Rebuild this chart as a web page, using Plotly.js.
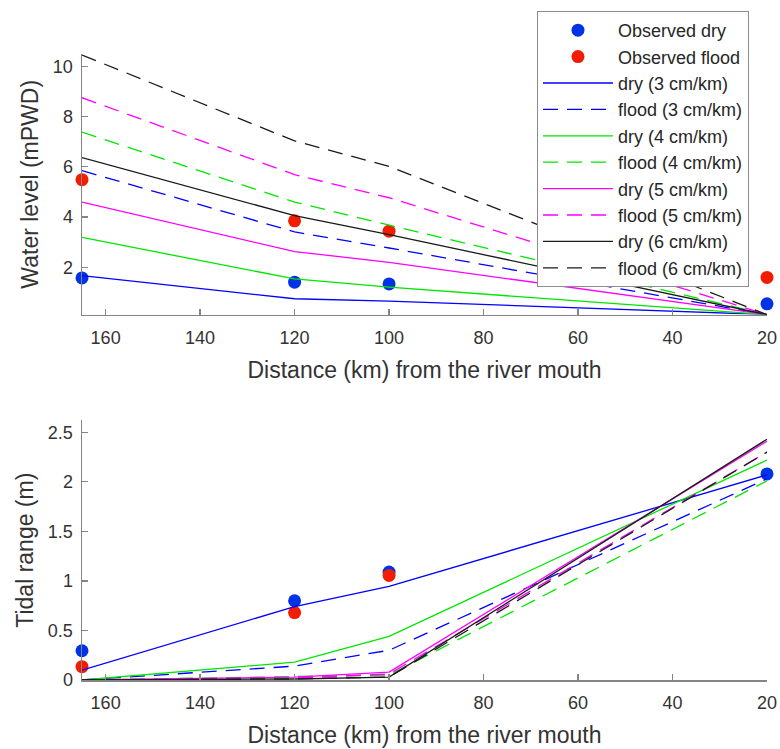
<!DOCTYPE html>
<html>
<head>
<meta charset="utf-8">
<script src="https://cdn.plot.ly/plotly-3.0.1.min.js"></script>
<style>html,body{margin:0;padding:0;background:#fff;}#chart{width:780px;height:749px;}</style>
</head>
<body>
<div id="chart"></div>
<script>
// Distance from river mouth (km)
var distance = [165, 120, 100, 20];

// ---- Water level (mPWD) ----
var obsDryWL   = [1.58, 1.41, 1.34, 0.55];
var obsFloodWL = [5.49, 3.85, 3.44, 1.60];
var dry3WL   = [1.67, 0.75, 0.66, 0.12];
var flood3WL = [5.85, 3.41, 2.77, 0.12];
var dry4WL   = [3.19, 1.54, 1.21, 0.12];
var flood4WL = [7.38, 4.60, 3.68, 0.12];
var dry5WL   = [4.60, 2.63, 2.20, 0.12];
var flood5WL = [8.75, 5.69, 4.77, 0.12];
var dry6WL   = [6.37, 4.06, 3.30, 0.12];
var flood6WL = [10.45, 7.03, 6.02, 0.12];

// ---- Tidal range (m) ----
var obsDryTR   = [0.295, 0.80, 1.09, 2.08];
var obsFloodTR = [0.134, 0.68, 1.055, 2.625];
var dry3TR   = [0.10, 0.74, 0.945, 2.07];
var flood3TR = [0.00, 0.14, 0.30, 2.03];
var dry4TR   = [0.00, 0.18, 0.44, 2.22];
var flood4TR = [0.00, 0.03, 0.05, 2.01];
var dry5TR   = [0.00, 0.03, 0.08, 2.41];
var flood5TR = [0.00, 0.02, 0.06, 2.30];
var dry6TR   = [0.00, 0.01, 0.03, 2.43];
var flood6TR = [0.00, 0.01, 0.03, 2.30];

var seriesNames = ['dry (3 cm/km)', 'flood (3 cm/km)', 'dry (4 cm/km)', 'flood (4 cm/km)',
                   'dry (5 cm/km)', 'flood (5 cm/km)', 'dry (6 cm/km)', 'flood (6 cm/km)'];
var seriesColors = ['#0000ff', '#0000ff', '#00e600', '#00e600', '#ff00ff', '#ff00ff', '#1a1a1a', '#1a1a1a'];
var seriesDash = ['solid', '15px,9px', 'solid', '15px,9px', 'solid', '15px,9px', 'solid', '15px,9px'];

var wlSeries = [dry3WL, flood3WL, dry4WL, flood4WL, dry5WL, flood5WL, dry6WL, flood6WL];
var trSeries = [dry3TR, flood3TR, dry4TR, flood4TR, dry5TR, flood5TR, dry6TR, flood6TR];

var FONT = 'Liberation Sans, Arial, Helvetica, sans-serif';
var traces = [];

function addPanel(obsDry, obsFlood, series, xa, ya, showLeg) {
  traces.push({x: distance, y: obsDry, type: 'scatter', mode: 'markers', name: 'Observed dry',
    xaxis: xa, yaxis: ya, showlegend: showLeg, cliponaxis: false,
    marker: {color: '#0033e6', size: 13}});
  traces.push({x: distance, y: obsFlood, type: 'scatter', mode: 'markers', name: 'Observed flood',
    xaxis: xa, yaxis: ya, showlegend: showLeg, cliponaxis: false,
    marker: {color: '#f21c00', size: 13}});
  for (var i = 0; i < series.length; i++) {
    traces.push({x: distance, y: series[i], type: 'scatter', mode: 'lines', name: seriesNames[i],
      xaxis: xa, yaxis: ya, showlegend: showLeg,
      line: {color: seriesColors[i], width: 1.3, dash: seriesDash[i]}});
  }
}
addPanel(obsDryWL, obsFloodWL, wlSeries, 'x', 'y', true);
addPanel(obsDryTR, obsFloodTR, trSeries, 'x2', 'y2', false);

var axColor = '#858585';
function xAxis(anchor) {
  return {anchor: anchor, range: [165, 20], showline: true, linecolor: axColor, linewidth: 1.5,
    ticks: 'inside', ticklen: 6, tickwidth: 1.3, tickcolor: axColor, ticklabelstandoff: 6,
    tickvals: [160, 140, 120, 100, 80, 60, 40, 20], showgrid: false, zeroline: false,
    tickfont: {family: FONT, size: 18, color: '#333'},
    title: {text: 'Distance (km) from the river mouth', standoff: 15,
            font: {family: FONT, size: 23, color: '#333'}}};
}
function yAxis(anchor, domain, range, tickvals, title) {
  return {anchor: anchor, domain: domain, range: range, showline: true, linecolor: axColor, linewidth: 1.5,
    ticks: 'inside', ticklen: 6, tickwidth: 1.3, tickcolor: axColor, ticklabelstandoff: 4,
    tickvals: tickvals, showgrid: false, zeroline: false,
    tickfont: {family: FONT, size: 18, color: '#333'},
    title: {text: title, standoff: 8, font: {family: FONT, size: 23, color: '#333'}}};
}

var layout = {
  width: 780, height: 749,
  margin: {l: 82, r: 13, t: 53, b: 69},
  paper_bgcolor: '#fff', plot_bgcolor: '#fff',
  font: {family: FONT, color: '#333'},
  xaxis: xAxis('y'),
  yaxis: yAxis('x', [0.5837, 1], [0.12, 10.49], [2, 4, 6, 8, 10], 'Water level (mPWD)'),
  xaxis2: xAxis('y2'),
  yaxis2: yAxis('x2', [0, 0.4147], [0, 2.62], [0, 0.5, 1, 1.5, 2, 2.5], 'Tidal range (m)'),
  showlegend: true,
  legend: {x: 0.9737, xanchor: 'right', y: 1.067, yanchor: 'top',
    bgcolor: '#fff', bordercolor: '#8c8c8c', borderwidth: 1,
    itemwidth: 70, tracegroupgap: 0,
    font: {family: FONT, size: 18, color: '#262626'}}
};

Plotly.newPlot('chart', traces, layout, {displayModeBar: false, staticPlot: true});
</script>
</body>
</html>
